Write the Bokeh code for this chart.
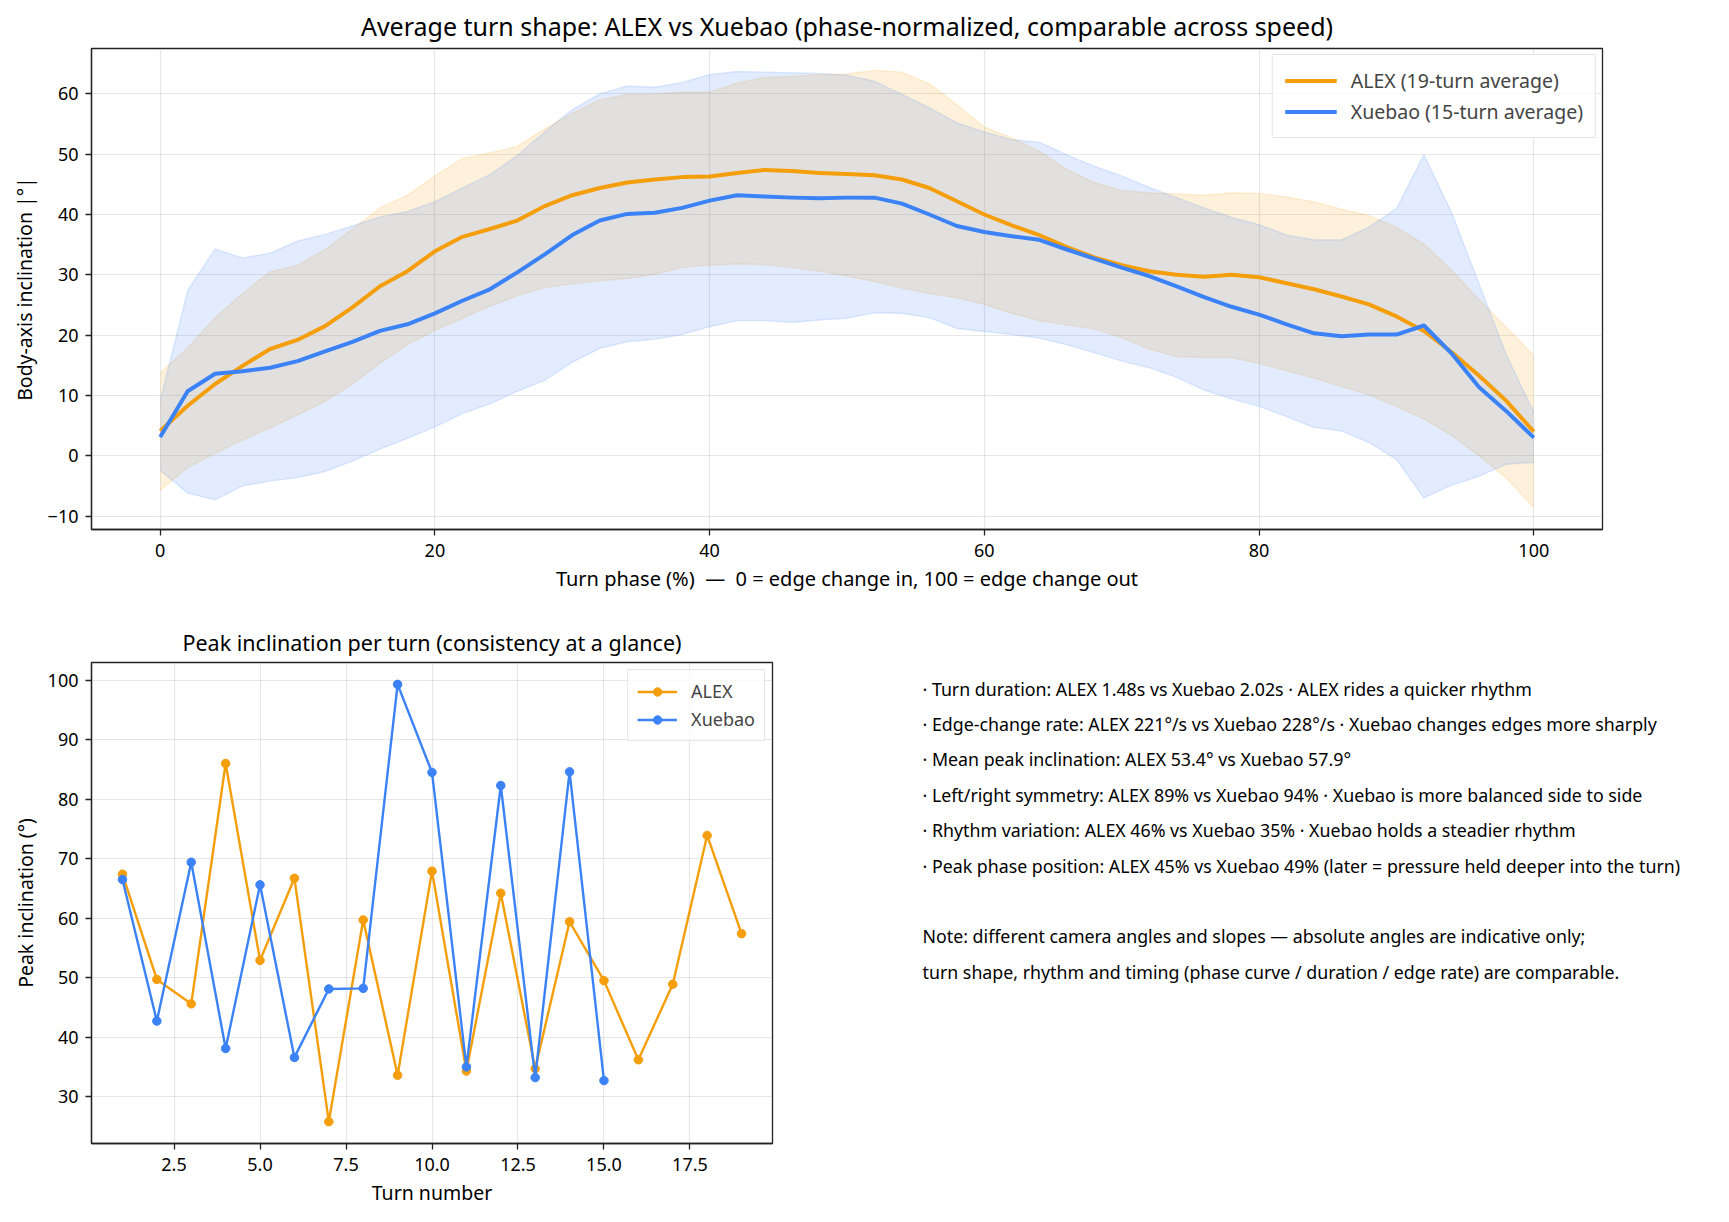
from bokeh.plotting import figure
from bokeh.models import Range1d, FixedTicker, PrintfTickFormatter, ColumnDataSource
from bokeh.layouts import column, row
from bokeh.embed import file_html
from bokeh.resources import INLINE
from bokeh.core.properties import value

# ---------------- data ----------------
phase = list(range(0, 101, 2))

alex_mean = [4.1, 8.3, 11.9, 14.9, 17.7, 19.2, 21.5, 24.6, 28.1, 30.6,
             33.9, 36.3, 37.6, 39.0, 41.4, 43.2, 44.4, 45.3, 45.8, 46.2,
             46.3, 46.9, 47.4, 47.2, 46.9, 46.7, 46.5, 45.8, 44.4, 42.2,
             40.0, 38.2, 36.6, 34.6, 32.9, 31.6, 30.6, 30.0, 29.7, 30.0,
             29.6, 28.6, 27.6, 26.4, 25.1, 23.1, 20.7, 17.2, 13.3, 9.1, 4.0]
alex_upper = [13.7, 17.9, 22.9, 26.9, 30.5, 31.6, 34.2, 37.6, 41.1, 43.2,
              46.4, 49.3, 50.2, 51.3, 54.2, 56.8, 59.0, 59.9, 60.0, 60.3,
              60.3, 61.8, 62.7, 62.9, 63.2, 63.3, 63.9, 63.6, 61.7, 58.2,
              54.5, 52.7, 50.5, 47.5, 45.3, 44.0, 43.6, 43.4, 43.2, 43.6,
              43.5, 42.9, 42.1, 40.9, 39.8, 37.9, 35.1, 30.8, 25.9, 21.3, 16.6]
alex_lower = [-5.7, -2.0, 0.4, 2.6, 4.6, 6.8, 9.0, 11.9, 15.3, 18.4,
              20.8, 22.8, 24.8, 26.5, 27.9, 28.5, 29.0, 29.4, 30.1, 31.2,
              31.6, 31.8, 31.7, 31.2, 30.6, 29.8, 28.9, 27.8, 26.9, 26.2,
              25.1, 23.6, 22.4, 21.7, 21.0, 19.6, 17.7, 16.4, 16.3, 16.3,
              15.3, 14.1, 12.9, 11.5, 10.1, 8.2, 6.1, 3.4, 0.0, -3.7, -8.6]

xuebao_mean = [3.1, 10.7, 13.6, 14.0, 14.6, 15.7, 17.3, 18.9, 20.7, 21.8,
               23.6, 25.7, 27.6, 30.4, 33.4, 36.6, 39.0, 40.1, 40.3, 41.1,
               42.3, 43.2, 43.0, 42.8, 42.7, 42.8, 42.8, 41.8, 40.0, 38.1,
               37.1, 36.4, 35.8, 34.2, 32.7, 31.2, 29.8, 28.1, 26.3, 24.7,
               23.4, 21.8, 20.3, 19.8, 20.1, 20.1, 21.6, 17.0, 11.4, 7.4, 3.0]
xuebao_upper = [9.1, 27.4, 34.3, 32.8, 33.6, 35.6, 36.7, 38.1, 39.6, 40.5,
                42.1, 44.4, 46.6, 49.8, 53.7, 57.4, 60.0, 61.3, 61.1, 61.9,
                63.2, 63.7, 63.6, 63.5, 63.4, 63.1, 62.1, 59.9, 57.7, 55.2,
                53.7, 52.4, 52.0, 49.9, 48.0, 46.4, 44.5, 42.8, 41.1, 39.5,
                38.3, 36.6, 35.8, 35.8, 37.9, 41.0, 49.9, 40.4, 28.6, 16.7, 7.2]
xuebao_lower = [-2.4, -6.2, -7.3, -5.0, -4.2, -3.6, -2.6, -0.9, 1.1, 2.9,
                4.8, 7.0, 8.6, 10.7, 12.5, 15.5, 17.8, 18.9, 19.3, 20.1,
                21.4, 22.4, 22.4, 22.1, 22.5, 22.8, 23.7, 23.6, 22.9, 21.1,
                20.6, 20.1, 19.5, 18.4, 17.1, 15.7, 14.6, 13.0, 10.9, 9.4,
                8.2, 6.5, 4.7, 4.1, 2.2, -0.6, -7.0, -4.9, -3.4, -1.4, -1.1]

alex_turns = list(range(1, 20))
alex_peak = [67.4, 49.7, 45.6, 86.0, 52.9, 66.7, 25.8, 59.7, 33.6, 67.9,
             34.3, 64.2, 34.7, 59.4, 49.5, 36.2, 48.9, 73.9, 57.4]
xuebao_turns = list(range(1, 16))
xuebao_peak = [66.5, 42.7, 69.4, 38.1, 65.6, 36.6, 48.1, 48.2, 99.3, 84.5,
               35.0, 82.3, 33.2, 84.6, 32.7]

top_xticks = [0, 20, 40, 60, 80, 100]
top_yticks = [-10, 0, 10, 20, 30, 40, 50, 60]
bot_xticks = [2.5, 5.0, 7.5, 10.0, 12.5, 15.0, 17.5]
bot_yticks = [30, 40, 50, 60, 70, 80, 90, 100]

summary_lines = [
    "· Turn duration: ALEX 1.48s vs Xuebao 2.02s · ALEX rides a quicker rhythm",
    "· Edge-change rate: ALEX 221°/s vs Xuebao 228°/s · Xuebao changes edges more sharply",
    "· Mean peak inclination: ALEX 53.4° vs Xuebao 57.9°",
    "· Left/right symmetry: ALEX 89% vs Xuebao 94% · Xuebao is more balanced side to side",
    "· Rhythm variation: ALEX 46% vs Xuebao 35% · Xuebao holds a steadier rhythm",
    "· Peak phase position: ALEX 45% vs Xuebao 49% (later = pressure held deeper into the turn)",
    "",
    "Note: different camera angles and slopes — absolute angles are indicative only;",
    "turn shape, rhythm and timing (phase curve / duration / edge rate) are comparable.",
]

ORANGE = "#f59e0b"
BLUE = "#3b82f6"
FONT = "Noto Sans"


def padded(lo, hi, frac=0.05):
    span = hi - lo
    return lo - frac * span, hi + frac * span


def style(p, tick_size="18px", label_size="19.5px", ylabel_standoff=6):
    p.title.text_font = FONT
    p.title.text_font_style = "normal"
    p.title.align = "center"
    p.title.text_color = "black"
    p.outline_line_color = "#222222"
    p.outline_line_width = 1.3
    p.outline_line_alpha = 1.0
    for ax in (p.xaxis[0], p.yaxis[0]):
        ax.axis_line_color = "#222222"
        ax.axis_line_width = 1.3
        ax.major_tick_line_color = "#222222"
        ax.major_tick_line_width = 1.3
        ax.major_tick_in = 0
        ax.major_tick_out = 6
        ax.minor_tick_line_color = None
        ax.major_label_text_font = FONT
        ax.major_label_text_font_size = tick_size
        ax.major_label_text_color = "black"
        ax.axis_label_text_font = FONT
        ax.axis_label_text_font_size = label_size
        ax.axis_label_text_font_style = "normal"
        ax.axis_label_text_color = "black"
    p.xaxis[0].major_label_standoff = 8
    p.yaxis[0].major_label_standoff = 7
    p.xaxis[0].axis_label_standoff = 5
    p.yaxis[0].axis_label_standoff = ylabel_standoff
    for g in (p.xgrid[0], p.ygrid[0]):
        g.grid_line_color = "#b0b0b0"
        g.grid_line_alpha = 0.3
        g.grid_line_width = 1.2


def style_legend(lg, font_size, glyph_w, row_h, spacing, padding, standoff, margin):
    lg.location = "top_right"
    lg.margin = margin
    lg.padding = padding
    lg.spacing = spacing
    lg.glyph_width = glyph_w
    lg.glyph_height = row_h
    lg.label_height = row_h
    lg.label_standoff = standoff
    lg.label_text_font = FONT
    lg.label_text_font_size = font_size
    lg.label_text_line_height = 1.0
    lg.border_line_color = "#cccccc"
    lg.border_line_width = 1.2
    lg.background_fill_alpha = 0.8


# ---------------- top chart ----------------
lo_all = min(min(alex_lower), min(xuebao_lower), min(alex_mean), min(xuebao_mean))
hi_all = max(max(alex_upper), max(xuebao_upper), max(alex_mean), max(xuebao_mean))
ylo, yhi = padded(lo_all, hi_all)
xlo, xhi = padded(min(phase), max(phase))

top = figure(width=1713, height=608, output_backend="svg", toolbar_location=None,
             x_range=Range1d(xlo, xhi), y_range=Range1d(ylo, yhi),
             min_border_left=91, min_border_right=111, min_border_top=47,
             min_border_bottom=79,
             title="Average turn shape: ALEX vs Xuebao (phase-normalized, comparable across speed)")
top.title.text_font_size = "25px"
top.title.standoff = 12

src = ColumnDataSource(dict(x=phase, am=alex_mean, au=alex_upper, al=alex_lower,
                            xm=xuebao_mean, xu=xuebao_upper, xl=xuebao_lower))

top.varea(x="x", y1="al", y2="au", source=src, fill_color=ORANGE, fill_alpha=0.15)
top.line(x="x", y="au", source=src, line_color=ORANGE, line_alpha=0.15, line_width=1.4)
top.line(x="x", y="al", source=src, line_color=ORANGE, line_alpha=0.15, line_width=1.4)
top.varea(x="x", y1="xl", y2="xu", source=src, fill_color=BLUE, fill_alpha=0.15)
top.line(x="x", y="xu", source=src, line_color=BLUE, line_alpha=0.15, line_width=1.4)
top.line(x="x", y="xl", source=src, line_color=BLUE, line_alpha=0.15, line_width=1.4)

top.line(x="x", y="am", source=src, line_color=ORANGE, line_width=4, line_join="round",
         legend_label="ALEX (19-turn average)")
top.line(x="x", y="xm", source=src, line_color=BLUE, line_width=4, line_join="round",
         legend_label="Xuebao (15-turn average)")

top.xaxis.ticker = FixedTicker(ticks=top_xticks)
top.yaxis.ticker = FixedTicker(ticks=top_yticks)
top.xaxis.axis_label = "Turn phase (%)\u00a0\u00a0—\u00a0\u00a00 = edge change in, 100 = edge change out"
top.yaxis.axis_label = "Body-axis inclination |°|"
style(top, ylabel_standoff=7)
top.xaxis[0].axis_label_text_font_size = "20px"
style_legend(top.legend[0], "19.5px", glyph_w=52, row_h=23, spacing=4, padding=12,
             standoff=14, margin=6)

# ---------------- bottom-left chart ----------------
all_peaks = alex_peak + xuebao_peak
bylo, byhi = padded(min(all_peaks), max(all_peaks))
all_turns = alex_turns + xuebao_turns
bxlo, bxhi = padded(min(all_turns), max(all_turns))

BOT_TOP, BOT_BOTTOM, BOT_H = 54, 71, 606

bot = figure(width=808, height=BOT_H, output_backend="svg", toolbar_location=None,
             x_range=Range1d(bxlo, bxhi), y_range=Range1d(bylo, byhi),
             min_border_left=91, min_border_right=36, min_border_top=BOT_TOP,
             min_border_bottom=BOT_BOTTOM,
             title="Peak inclination per turn (consistency at a glance)")
bot.title.text_font_size = "21.5px"
bot.title.standoff = 11

bot.line(alex_turns, alex_peak, line_color=ORANGE, line_width=2.4, line_join="round",
         legend_label="ALEX")
bot.scatter(alex_turns, alex_peak, size=8.5, fill_color=ORANGE, line_color=ORANGE,
            legend_label="ALEX")
bot.line(xuebao_turns, xuebao_peak, line_color=BLUE, line_width=2.4, line_join="round",
         legend_label="Xuebao")
bot.scatter(xuebao_turns, xuebao_peak, size=8.5, fill_color=BLUE, line_color=BLUE,
            legend_label="Xuebao")

bot.xaxis.ticker = FixedTicker(ticks=bot_xticks)
bot.xaxis.formatter = PrintfTickFormatter(format="%.1f")
bot.yaxis.ticker = FixedTicker(ticks=bot_yticks)
bot.xaxis.axis_label = "Turn number"
bot.yaxis.axis_label = "Peak inclination (°)"
style(bot, ylabel_standoff=6)
style_legend(bot.legend[0], "18px", glyph_w=40, row_h=21, spacing=4, padding=9,
             standoff=14, margin=7)

# ---------------- summary text ----------------
frame_h = BOT_H - BOT_TOP - BOT_BOTTOM
txt = figure(width=905, height=BOT_H, output_backend="svg", toolbar_location=None,
             x_range=Range1d(0, 905), y_range=Range1d(frame_h, 0),
             min_border_left=0, min_border_right=0, min_border_top=BOT_TOP,
             min_border_bottom=BOT_BOTTOM, x_axis_type=None, y_axis_type=None)
txt.outline_line_color = None
txt.grid.visible = False
line_y = [26 + 35.4 * i for i in range(len(summary_lines))]
txt.text(x=[114] * len(summary_lines), y=line_y, text=summary_lines,
         text_font=value(FONT), text_font_size="17.8px", text_baseline="middle",
         text_align="left", text_color="black")

layout = column(top, row(bot, txt))
open("out.html", "w").write(file_html(layout, INLINE))
